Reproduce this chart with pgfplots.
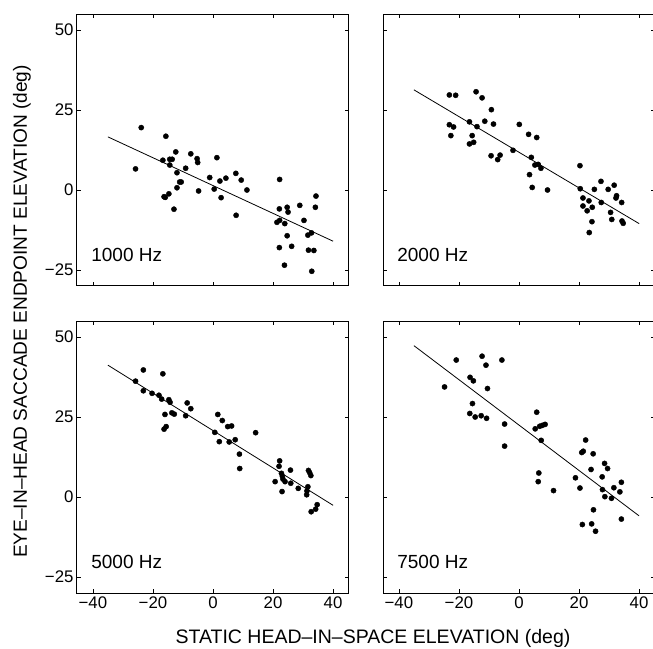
\documentclass[border=0pt]{standalone}
\usepackage{fontspec}
\setmainfont{Liberation Sans}
\usepackage{pgfplots}
\pgfplotsset{compat=1.18}
\pgfplotsset{panel/.style={
  scale only axis, width=272pt, height=272pt,
  xmin=-45.3, xmax=45.3, ymin=-30, ymax=55,
  xtick={-40,-20,0,20,40}, ytick={-25,0,25,50},
  xticklabels={−40,−20,0,20,40}, yticklabels={−25,0,25,50},
  tick align=inside, major tick length=4pt,
  tick style={black, line width=0.6pt},
  axis line style={black, line width=1pt},
  ticklabel style={font=\fontsize{16.8}{18}\selectfont},
  minor tick num=0,
}}
\tikzset{dots/.style={only marks, mark=*, mark size=2.6pt, black},
  fit/.style={black, line width=0.8pt, no marks},
  plab/.style={anchor=base west, inner sep=0pt, font=\fontsize{19}{22}\selectfont}}
\begin{document}
\begin{tikzpicture}
% ---------- 1000 Hz
\begin{axis}[panel, at={(0pt,0pt)}, anchor=north west, xticklabels={}]
\addplot[dots] table {
x y
-25.8 6.6
-23.9 19.5
-15.7 16.8
-16.7 9.3
-14.4 9.6
-13.6 9.6
-14.4 7.8
-12.4 11.9
-12.0 5.4
-11.1 2.5
-10.6 2.5
-12.0 0.7
-16.3 -2.1
-15.9 -2.3
-14.7 -1.2
-13.0 -6.0
-9.1 6.8
-7.4 11.3
-5.3 9.8
-5.1 8.6
-4.8 -0.3
-1.1 3.9
0.4 0.3
1.3 10.1
2.3 2.8
2.7 -2.4
4.3 3.7
7.6 5.2
9.4 3.1
11.3 0.0
7.7 -7.9
22.2 3.3
22.1 -5.9
21.3 -10.1
22.2 -9.5
23.9 -10.5
24.7 -5.4
25.0 -6.9
24.7 -14.3
22.1 -18.0
23.8 -23.5
26.2 -17.6
28.9 -4.8
30.3 -9.5
31.6 -14.1
32.8 -13.4
31.8 -18.8
33.6 -18.9
32.9 -25.4
34.3 -1.9
34.1 -5.4
};
\addplot[fit] coordinates {(-35,16.6) (40,-16.0)};
\node[plab] at (axis cs:-40.6,-22.2) {1000 Hz};
\end{axis}
% ---------- 2000 Hz
\begin{axis}[panel, at={(306pt,0pt)}, anchor=north west, xticklabels={}, yticklabels={}]
\addplot[dots] table {
x y
-23.2 29.7
-21.1 29.6
-23.2 20.4
-21.8 19.7
-22.7 17.0
-16.5 21.3
-15.6 17.0
-16.5 14.4
-15.1 14.9
-14.3 30.7
-14.0 19.8
-12.3 28.8
-11.4 21.5
-9.2 25.1
-8.5 20.6
-9.3 10.7
-7.1 9.5
-6.3 10.9
-2.0 12.4
0.1 20.5
3.2 17.4
5.9 16.4
4.1 10.2
5.3 7.8
6.4 8.0
7.3 6.8
3.5 4.8
4.4 0.8
9.5 0.0
20.3 7.6
20.4 0.4
21.3 -2.5
23.3 -3.4
21.3 -5.0
22.7 -6.5
24.4 -5.4
24.3 -9.9
23.4 -13.3
25.1 0.2
27.3 2.7
27.4 -3.9
29.7 0.2
31.7 1.5
32.5 -1.8
32.3 -2.5
34.2 -3.9
30.5 -7.0
30.9 -9.2
34.3 -9.7
34.7 -10.4
};
\addplot[fit] coordinates {(-35,31.3) (40,-10.5)};
\node[plab] at (axis cs:-40.6,-22.2) {2000 Hz};
\end{axis}
% ---------- 5000 Hz
\begin{axis}[panel, at={(0pt,-307pt)}, anchor=north west]
\addplot[dots] table {
x y
-25.8 36.2
-23.2 39.7
-23.2 33.2
-20.3 32.4
-18.0 31.8
-17.1 30.6
-16.7 38.5
-14.7 30.4
-14.3 29.6
-16.0 25.8
-13.7 26.3
-12.9 25.9
-16.3 21.2
-15.6 22.0
-9.1 25.4
-8.6 29.4
-7.4 27.6
0.6 20.2
1.6 25.8
2.1 17.3
3.1 23.9
4.9 22.0
6.2 22.2
5.4 17.2
7.4 17.9
8.8 13.4
8.9 8.9
14.2 20.1
22.2 11.3
22.0 9.6
22.8 7.4
23.1 6.5
23.3 5.6
24.0 4.8
20.7 4.8
23.0 1.7
25.8 8.4
25.9 4.3
28.4 2.7
31.8 8.3
32.2 7.6
32.6 6.7
31.6 3.2
31.3 1.9
31.2 0.7
32.7 -4.6
34.2 -3.8
34.7 -2.4
};
\addplot[fit] coordinates {(-35,41.2) (40,-2.6)};
\node[plab] at (axis cs:-40.6,-22.2) {5000 Hz};
\end{axis}
% ---------- 7500 Hz
\begin{axis}[panel, at={(306pt,-307pt)}, anchor=north west, yticklabels={}]
\addplot[dots] table {
x y
-24.8 34.4
-20.9 42.8
-12.3 44.0
-11.0 41.2
-5.7 42.8
-16.3 37.4
-15.2 36.3
-15.5 29.2
-16.4 26.1
-14.6 25.0
-12.6 25.4
-10.8 24.6
-10.5 33.9
-4.8 22.8
-4.8 15.9
5.9 26.5
5.4 21.3
6.9 22.1
7.8 22.4
8.7 22.7
7.4 17.7
6.6 7.5
6.4 4.8
11.5 2.0
18.8 6.0
20.3 2.8
20.9 13.9
21.4 14.3
22.2 17.8
24.7 13.5
24.0 8.6
28.5 10.5
29.5 8.9
27.7 6.3
27.8 2.3
28.6 0.1
30.8 -0.4
31.6 2.9
33.6 1.6
34.1 4.6
34.1 -6.9
24.8 -4.0
21.1 -8.6
24.2 -8.4
25.5 -10.7
};
\addplot[fit] coordinates {(-35,47.3) (40,-5.9)};
\node[plab] at (axis cs:-40.6,-22.2) {7500 Hz};
\end{axis}
\node[rotate=90, anchor=base, font=\fontsize{19.1}{22}\selectfont] at (-50pt,-297.5pt) {EYE–IN–HEAD SACCADE ENDPOINT ELEVATION (deg)};
\node[anchor=base, font=\fontsize{19.5}{22}\selectfont] at (296pt,-629pt) {STATIC HEAD–IN–SPACE ELEVATION (deg)};
\pgfresetboundingbox
\useasboundingbox (-77pt,14pt) rectangle (576pt,-634pt);
\end{tikzpicture}
\end{document}
